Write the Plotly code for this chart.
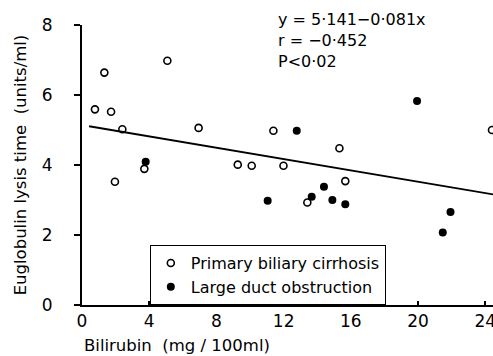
import plotly.graph_objects as go

# Primary biliary cirrhosis (open circles)
pbc_x = [0.77, 1.33, 1.73, 2.40, 1.96, 3.71, 5.08, 6.94, 9.27, 10.1, 11.39, 11.99, 13.41, 15.32, 15.67, 24.4]
pbc_y = [5.59, 6.64, 5.52, 5.02, 3.52, 3.89, 6.98, 5.06, 4.01, 3.98, 4.98, 3.98, 2.93, 4.48, 3.54, 5.0]

# Large duct obstruction (filled circles)
ldo_x = [3.79, 11.05, 12.78, 13.67, 14.4, 14.9, 15.67, 19.94, 21.47, 21.93]
ldo_y = [4.09, 2.98, 4.98, 3.09, 3.38, 3.0, 2.88, 5.83, 2.07, 2.66]

# Regression line y = 5.141 - 0.081x
intercept = 5.141
slope = -0.081
line_x = [0.42, 24.6]
line_y = [intercept + slope * v for v in line_x]

x_ticks = [0, 4, 8, 12, 16, 20, 24]
y_ticks = [0, 2, 4, 6, 8]

FONT = "DejaVu Sans"

fig = go.Figure()
fig.add_trace(go.Scatter(x=line_x, y=line_y, mode="lines",
                         line=dict(color="black", width=1.8), showlegend=False,
                         hoverinfo="skip"))
fig.add_trace(go.Scatter(x=pbc_x, y=pbc_y, mode="markers", name="Primary biliary cirrhosis",
                         marker=dict(symbol="circle-open", size=7, color="black",
                                     line=dict(width=1.6, color="black"))))
fig.add_trace(go.Scatter(x=ldo_x, y=ldo_y, mode="markers", name="Large duct obstruction",
                         marker=dict(symbol="circle", size=8, color="black")))

fig.update_layout(
    width=493, height=356,
    margin=dict(l=82, r=0, t=25, b=51, autoexpand=False),
    paper_bgcolor="white", plot_bgcolor="white",
    font=dict(family=FONT, color="black", size=16),
    legend=dict(x=0.165, y=0.214, xanchor="left", yanchor="top",
                bordercolor="black", borderwidth=1, bgcolor="white",
                font=dict(size=16, family=FONT), itemwidth=30,
                tracegroupgap=0),
    annotations=[
        dict(text="y = 5·141−0·081x<br>r = −0·452<br>P&lt;0·02", x=0.472, y=1.06,
             xref="paper", yref="paper", xanchor="left", yanchor="top", align="left",
             showarrow=False, font=dict(size=16, family=FONT)),
        dict(text="Euglobulin lysis time  (units/ml)", x=-0.15, y=0.5, textangle=-90,
             xref="paper", yref="paper", xanchor="center", yanchor="middle",
             showarrow=False, font=dict(size=16.5, family=FONT)),
        dict(text="Bilirubin  (mg / 100ml)", x=0.0, y=-0.143,
             xref="paper", yref="paper", xanchor="left", yanchor="middle",
             showarrow=False, font=dict(size=16.5, family=FONT)),
    ],
)
fig.update_xaxes(range=[0, 24.46], tickvals=x_ticks, showgrid=False, zeroline=False,
                 showline=True, linecolor="black", linewidth=2, automargin=False,
                 ticklabeloverflow="allow",
                 ticks="inside", ticklen=4, tickwidth=2, tickcolor="black",
                 tickfont=dict(size=17, family=FONT))
fig.update_yaxes(range=[0, 8], tickvals=y_ticks, showgrid=False, zeroline=False,
                 showline=True, linecolor="black", linewidth=2, automargin=False,
                 ticklabeloverflow="allow", ticklabelposition="outside",
                 ticklabelstandoff=18,
                 ticks="outside", ticklen=6, tickwidth=2, tickcolor="black",
                 tickfont=dict(size=17, family=FONT))

fig.write_html("out.html", config={"displayModeBar": False},
               post_script="document.body.style.margin='0';document.body.style.overflow='hidden';")
